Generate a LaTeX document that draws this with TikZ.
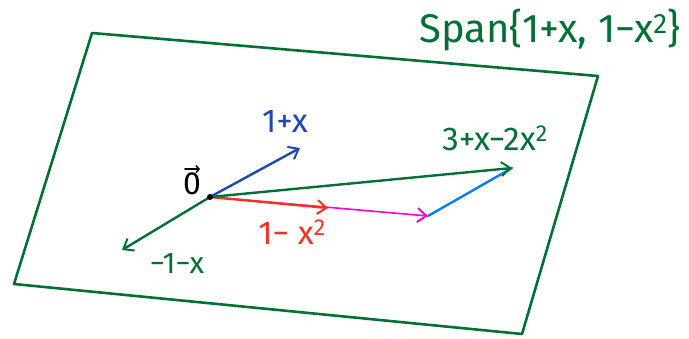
\documentclass[tikz,border=0pt]{standalone}
\usepackage{fontspec}
\setmainfont{Fira Sans}
\usetikzlibrary{arrows.meta}
\definecolor{pgreen}{RGB}{0,112,52}
\definecolor{pblue}{RGB}{30,72,180}
\definecolor{lblue}{RGB}{10,125,250}
\definecolor{pmag}{RGB}{255,0,210}
\definecolor{pred}{RGB}{240,50,40}
\begin{document}
\begin{tikzpicture}[x=1pt,y=-1pt,
  vec/.style={line width=2.4pt,line cap=round,-{Straight Barb[length=9pt,width=14pt,line width=2pt]}},
  lbl/.style={font=\fontsize{33}{35}\selectfont,inner sep=0pt}]
\useasboundingbox (0,0) rectangle (689,338);
% plane
\coordinate (p1) at (92,33);
\coordinate (p2) at (598,76);
\coordinate (p3) at (522,334);
\coordinate (p4) at (14,284);
\draw[pgreen,line width=2.6pt,line join=round] (p1) -- (p2) -- (p3) -- (p4) -- cycle;
% points
\coordinate (o) at (210,197);
\coordinate (a) at (300,148);
\coordinate (na) at (122,250);
\coordinate (b) at (328,208);
\coordinate (bb) at (428,216);
\coordinate (s) at (512,168);
% vectors
\draw[vec,pmag,line width=1.6pt] (o) -- (bb);
\draw[vec,pred] (o) -- (b);
\draw[vec,pblue] (o) -- (a);
\draw[vec,pgreen] (o) -- (na);
\draw[lblue,line width=2.4pt,line cap=round] (bb) -- (s);
\draw[vec,pgreen] (o) -- (s);
\fill (o) circle (3pt);
% labels
\node[lbl,pblue] (la) at (285,121) {1+x};
\node[lbl,pgreen] (ls) at (495,138) {3+x−2x\textsuperscript{2}};
\node[lbl,font=\fontsize{32}{34}\selectfont,anchor=base] (lo) at (192,194) {0};
\draw[line width=1.8pt,line cap=round,-{Straight Barb[length=3pt,width=7pt,line width=1.5pt]}] ([xshift=-7pt,yshift=3pt]lo.north) -- ([xshift=8pt,yshift=3pt]lo.north);
\node[lbl,pred] (lb) at (292,232) {1− x\textsuperscript{2}};
\node[lbl,pgreen,font=\fontsize{30}{32}\selectfont] (lna) at (177,263) {−1−x};
\node[lbl,pgreen,font=\fontsize{40}{42}\selectfont] (lsp) at (550,30) {Span\{1+x, 1−x\textsuperscript{2}\}};
\end{tikzpicture}
\end{document}
